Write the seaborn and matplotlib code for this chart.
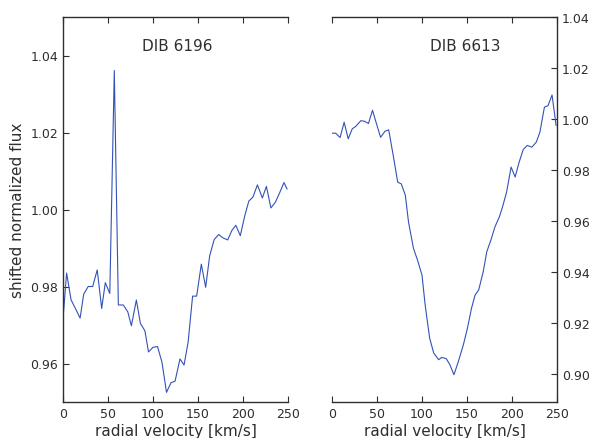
import matplotlib
matplotlib.use("Agg")
import matplotlib.pyplot as plt
import seaborn as sns
import pandas as pd

# DIB 6196 spectrum
vel_6196 = [0, 4, 9, 14, 19, 23, 28, 33, 38, 43, 47, 52, 57, 61.5, 67, 72, 76, 81.5, 86, 91,
            95, 100, 105, 110, 115, 120, 124.5, 130, 134.5, 139, 144, 148.5, 153.7, 158.5,
            163, 168, 173, 178, 183, 187.5, 192, 197, 202, 206.5, 211, 216, 221.5, 226,
            231, 236, 241, 245.5, 249]
flux_6196 = [0.9716, 0.9835, 0.9765, 0.9742, 0.9718, 0.978, 0.980, 0.980, 0.9843, 0.9743,
             0.981, 0.9782, 1.0361, 0.9752, 0.9752, 0.9734, 0.9698, 0.9765, 0.9704, 0.9685,
             0.963, 0.9642, 0.9644, 0.9603, 0.9525, 0.955, 0.9554, 0.9612, 0.9596, 0.9655,
             0.9775, 0.9775, 0.9858, 0.9798, 0.988, 0.9922, 0.9935, 0.9926, 0.9921, 0.9945,
             0.9959, 0.9932, 0.9984, 1.0022, 1.0032, 1.0064, 1.003, 1.006, 1.0004, 1.0019,
             1.0045, 1.007, 1.0053]

# DIB 6613 spectrum
vel_6613 = [0, 4, 9, 13.5, 18, 22.5, 26.5, 32, 36, 40.5, 45, 49.5, 54, 59, 63, 68, 73, 77,
            81.5, 85, 90.5, 95, 100, 103.5, 108.5, 113, 118.5, 122, 127, 131, 135.5, 140.5,
            146, 150.5, 155, 159, 163, 168, 172, 176.5, 181, 186, 189.5, 194, 199, 203.5,
            208, 212.5, 217, 222, 227, 231, 236, 240, 244.5, 249]
flux_6613 = [0.9944, 0.9944, 0.9927, 0.9987, 0.9922, 0.9961, 0.9971, 0.9993, 0.9991, 0.9982,
             1.0034, 0.998, 0.9928, 0.9952, 0.9957, 0.9857, 0.9752, 0.9745, 0.970, 0.9596,
             0.9492, 0.9446, 0.9387, 0.927, 0.914, 0.9081, 0.9055, 0.9064, 0.9059, 0.9035,
             0.8996, 0.9049, 0.9114, 0.9179, 0.9257, 0.9309, 0.9329, 0.940, 0.9479, 0.9524,
             0.9576, 0.9616, 0.9655, 0.9713, 0.9811, 0.9772, 0.9831, 0.988, 0.9896, 0.9889,
             0.9909, 0.9948, 1.0046, 1.0052, 1.0094, 0.9974]

titles = ["DIB 6196", "DIB 6613"]
line_color = "#3352b8"
text_color = "#2e2e2e"

sns.set_style("ticks")
plt.rcParams.update({
    "xtick.direction": "in", "ytick.direction": "in",
    "xtick.major.size": 4, "ytick.major.size": 4,
    "xtick.labelsize": 9, "ytick.labelsize": 9,
    "axes.labelsize": 11, "axes.edgecolor": text_color,
    "xtick.color": text_color, "ytick.color": text_color,
    "text.color": text_color, "axes.labelcolor": text_color,
    "axes.linewidth": 1.0,
})
plt.rcParams["font.family"] = ["DejaVu Sans"]

fig = plt.figure(figsize=(5.93, 4.39), dpi=100)
ax1 = fig.add_axes([63 / 593, 1 - 403 / 439, 225 / 593, 385 / 439])
ax2 = fig.add_axes([332 / 593, 1 - 403 / 439, 225 / 593, 385 / 439])

df1 = pd.DataFrame({"v": vel_6196, "f": flux_6196})
df2 = pd.DataFrame({"v": vel_6613, "f": flux_6613})
sns.lineplot(data=df1, x="v", y="f", ax=ax1, color=line_color, linewidth=0.8)
sns.lineplot(data=df2, x="v", y="f", ax=ax2, color=line_color, linewidth=0.8)

ax1.set_xlim(0, 250)
ax1.set_ylim(0.95, 1.05)
ax1.set_yticks([0.96, 0.98, 1.00, 1.02, 1.04])
ax1.set_yticklabels(["0.96", "0.98", "1.00", "1.02", "1.04"])
ax1.set_ylabel("shifted normalized flux")
ax1.spines["right"].set_visible(False)
ax1.tick_params(axis="x", top=True, bottom=True)
ax1.tick_params(axis="y", left=True, right=False)
ax1.text(0.51, 0.927, titles[0], transform=ax1.transAxes, ha="center", va="center", fontsize=11)

ax2.set_xlim(0, 250)
ax2.set_ylim(0.8889, 1.04)
ax2.set_yticks([0.90, 0.92, 0.94, 0.96, 0.98, 1.00, 1.02, 1.04])
ax2.set_yticklabels(["0.90", "0.92", "0.94", "0.96", "0.98", "1.00", "1.02", "1.04"])
ax2.spines["left"].set_visible(False)
ax2.spines["right"].set_visible(True)
ax2.spines["top"].set_visible(True)
ax2.yaxis.tick_right()
ax2.tick_params(axis="x", top=True, bottom=True)
ax2.tick_params(axis="y", left=False, right=True, labelright=True, labelleft=False)
ax2.set_ylabel("")
ax2.text(0.59, 0.927, titles[1], transform=ax2.transAxes, ha="center", va="center", fontsize=11)

for ax in (ax1, ax2):
    ax.set_xticks([0, 50, 100, 150, 200, 250])
    ax.set_xlabel("radial velocity [km/s]", labelpad=2)
    ax.spines["top"].set_visible(True)
    ax.spines["bottom"].set_visible(True)

fig.savefig("out.png", dpi=100)
